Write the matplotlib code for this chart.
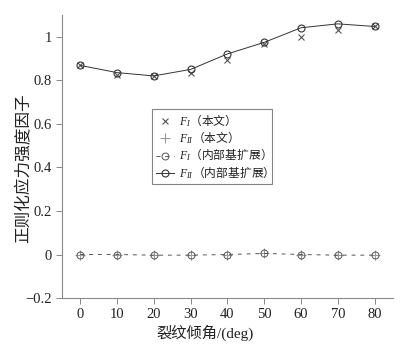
import matplotlib
matplotlib.use("Agg")
from matplotlib import pyplot as plt

plt.rcParams['font.family'] = ['Liberation Serif', 'Noto Sans CJK SC']
plt.rcParams['mathtext.fontset'] = 'custom'
plt.rcParams['mathtext.rm'] = 'Liberation Serif'
plt.rcParams['mathtext.it'] = 'Liberation Serif:italic'

# crack angle (deg)
angles = [0, 10, 20, 30, 40, 50, 60, 70, 80]
# this paper
fI_paper = [0.868, 0.826, 0.820, 0.832, 0.895, 0.967, 0.997, 1.029, 1.047]
fII_paper = [0.000, 0.000, -0.003, -0.003, 0.000, 0.005, 0.000, -0.003, -0.003]
# internal basis extension
fI_ext = [0.000, 0.000, -0.003, -0.003, 0.000, 0.005, 0.000, -0.003, -0.003]
fII_ext = [0.868, 0.835, 0.820, 0.850, 0.921, 0.974, 1.041, 1.059, 1.047]

labels = [r'$F_{I}$（本文）', r'$F_{II}$（本文）',
          r'$F_{I}$（内部基扩展）', r'$F_{II}$（内部基扩展）']

fig = plt.figure(figsize=(4.08, 3.47), dpi=100)
ax = fig.add_axes([0.152, 0.141, 0.811, 0.816])

ax.plot(angles, fI_paper, linestyle='none', marker='x', color='#555555',
        markersize=5, markeredgewidth=0.8, label=labels[0])
ax.plot(angles, fII_paper, linestyle='none', marker='+', color='#999999',
        markersize=7, markeredgewidth=0.8, label=labels[1])
ax.plot(angles, fI_ext, linestyle=(0, (4, 5)), color='#555555', lw=0.7,
        marker='o', markersize=5, markerfacecolor='none', markeredgewidth=0.7,
        label=labels[2])
ax.plot(angles, fII_ext, linestyle='-', color='#333333', lw=0.7,
        marker='o', markersize=5, markerfacecolor='none', markeredgewidth=0.8,
        label=labels[3])

ax.set_xlim(-5, 85)
ax.set_ylim(-0.2, 1.1)
ax.set_xticks(angles)
ax.set_yticks([-0.2, 0, 0.2, 0.4, 0.6, 0.8, 1])
ax.set_yticklabels(['−0.2', '0', '0.2', '0.4', '0.6', '0.8', '1'])

for s in ['top', 'right']:
    ax.spines[s].set_visible(False)
for s in ['left', 'bottom']:
    ax.spines[s].set_color('#888888')
    ax.spines[s].set_linewidth(0.8)
ax.tick_params(direction='out', length=4, width=0.7, color='#888888',
               labelsize=10.5, labelcolor='#222222')

ax.set_xlabel('裂纹倾角/(deg)', fontsize=11, color='#222222')
ax.set_ylabel('正则化应力强度因子', fontsize=12, color='#222222')
ax.xaxis.set_label_coords(0.432, -0.093)
ax.yaxis.set_label_coords(-0.088, 0.46)

# non-math part of a mathtext label only uses the first family, so give CJK here
leg = ax.legend(loc='upper left', bbox_to_anchor=(0.272, 0.668),
                prop={'family': 'Noto Sans CJK SC', 'size': 8.5},
                frameon=True, fancybox=False, edgecolor='#666666',
                handlelength=1.6, borderpad=0.3, labelspacing=0.05,
                handletextpad=0.4, borderaxespad=0)
leg.get_frame().set_linewidth(0.8)
for t in leg.get_texts():
    t.set_color('#222222')

fig.savefig('out.png', dpi=100)
